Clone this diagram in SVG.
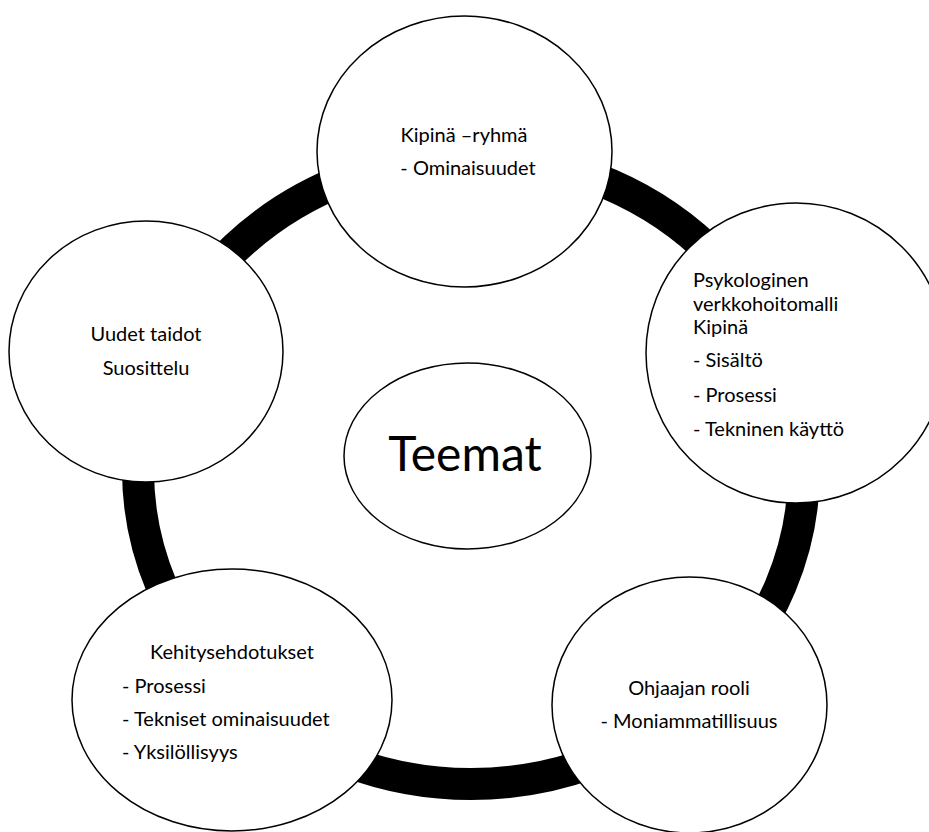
<svg xmlns="http://www.w3.org/2000/svg" width="929" height="832" viewBox="0 0 929 832">
  <style>
    .node { fill: #ffffff; stroke: #000000; stroke-width: 1.5; }
    .ring { fill: none; stroke: #000000; stroke-width: 32; }
    .t { font-family: Lato, "Open Sans", "Liberation Sans", sans-serif; font-size: 20px; fill: #000000; }
    .mid { text-anchor: middle; }
    .big { font-size: 48px; }
  </style>
  <rect x="0" y="0" width="929" height="832" fill="#ffffff"/>
  <g id="connectors">
    <ellipse class="ring" cx="471" cy="470" rx="333" ry="314"/>
  </g>
  <g id="node-kipina-ryhma">
    <ellipse class="node" cx="464.5" cy="151.5" rx="147.5" ry="135.5"/>
    <text class="t mid" x="464" y="142">Kipinä –ryhmä</text>
    <text class="t mid" x="468" y="175">- Ominaisuudet</text>
  </g>
  <g id="node-psykologinen">
    <ellipse class="node" cx="796" cy="353" rx="150" ry="150"/>
    <text class="t" x="693" y="287">Psykologinen</text>
    <text class="t" x="693" y="311">verkkohoitomalli</text>
    <text class="t" x="693" y="334">Kipinä</text>
    <text class="t" x="693" y="367">- Sisältö</text>
    <text class="t" x="693" y="402">- Prosessi</text>
    <text class="t" x="693" y="436">- Tekninen käyttö</text>
  </g>
  <g id="node-uudet-taidot">
    <ellipse class="node" cx="146" cy="351.5" rx="137" ry="130.5"/>
    <text class="t mid" x="146" y="341">Uudet taidot</text>
    <text class="t mid" x="146" y="375">Suosittelu</text>
  </g>
  <g id="node-teemat">
    <ellipse class="node" cx="467.5" cy="456" rx="123.5" ry="93"/>
    <text class="t mid big" x="465" y="471">Teemat</text>
  </g>
  <g id="node-kehitysehdotukset">
    <ellipse class="node" cx="232" cy="700" rx="160" ry="131"/>
    <text class="t mid" x="232" y="659">Kehitysehdotukset</text>
    <text class="t" x="122" y="693">- Prosessi</text>
    <text class="t" x="122" y="726">- Tekniset ominaisuudet</text>
    <text class="t" x="122" y="759">- Yksilöllisyys</text>
  </g>
  <g id="node-ohjaajan-rooli">
    <ellipse class="node" cx="689.5" cy="705" rx="137.5" ry="128"/>
    <text class="t mid" x="689" y="695">Ohjaajan rooli</text>
    <text class="t mid" x="689" y="728">- Moniammatillisuus</text>
  </g>
</svg>
